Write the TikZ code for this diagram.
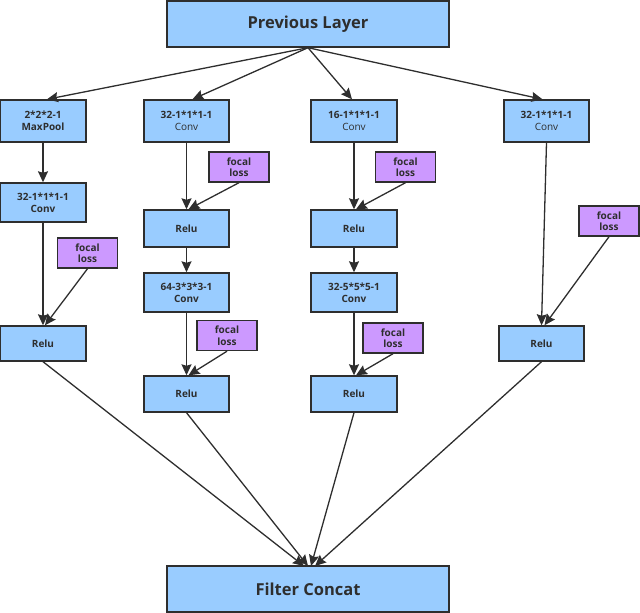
\documentclass[tikz,border=0pt]{standalone}
\usepackage{fontspec}
\setmainfont{Open Sans}
\usetikzlibrary{arrows.meta,calc}
\definecolor{bfill}{HTML}{99CCFF}
\definecolor{pfill}{HTML}{CC99FF}
\definecolor{ink}{HTML}{2E2E2E}
\tikzset{
  blk/.style={draw=ink,line width=1.4pt,fill=bfill,inner sep=0pt,align=center,text=ink,font=\fontsize{10}{12}\selectfont},
  fl/.style={draw=ink,line width=1.4pt,fill=pfill,inner sep=0pt,align=center,text=ink,font=\bfseries\fontsize{10}{11.5}\selectfont,minimum width=60,minimum height=30},
  big/.style={blk,font=\bfseries\fontsize{16.5}{18}\selectfont,minimum width=282,minimum height=46},
  arr/.style={draw=ink,line width=1.3pt,-{Stealth[length=11pt,width=10pt,inset=1.5pt]}}
}
\begin{document}
\begin{tikzpicture}[x=1pt,y=-1pt]
\useasboundingbox (0,0) rectangle (640,613);
\node[big] (prev) at (308,24) {Previous Layer};
\node[big] (concat) at (308,589) {Filter Concat};
% column 1
\node[blk,minimum width=86,minimum height=42] (mp) at (43,121) {\textbf{2*2*2-1}\\\textbf{MaxPool}};
\node[blk,minimum width=86,minimum height=39] (c1conv) at (43,202.5) {\textbf{32-1*1*1-1}\\\textbf{Conv}};
\node[fl] (c1fl) at (87.5,253) {focal\\loss};
\node[blk,minimum width=86,minimum height=35] (c1relu) at (43,343.5) {\textbf{Relu}};
% column 2
\node[blk,minimum width=85,minimum height=42] (c2conv) at (186.5,121) {\textbf{32-1*1*1-1}\\Conv};
\node[fl] (c2fl) at (239,167) {focal\\loss};
\node[blk,minimum width=85,minimum height=37] (c2relua) at (186.5,228.5) {\textbf{Relu}};
\node[blk,minimum width=85,minimum height=39] (c2convb) at (186.5,292.5) {\textbf{64-3*3*3-1}\\\textbf{Conv}};
\node[fl] (c2flb) at (227,335.5) {focal\\loss};
\node[blk,minimum width=85,minimum height=36] (c2relub) at (186.5,394) {\textbf{Relu}};
% column 3
\node[blk,minimum width=86,minimum height=42] (c3conv) at (354,121) {\textbf{16-1*1*1-1}\\Conv};
\node[fl] (c3fl) at (405.5,167) {focal\\loss};
\node[blk,minimum width=86,minimum height=37] (c3relua) at (354,228.5) {\textbf{Relu}};
\node[blk,minimum width=86,minimum height=39] (c3convb) at (354,292.5) {\textbf{32-5*5*5-1}\\\textbf{Conv}};
\node[fl] (c3flb) at (393,338) {focal\\loss};
\node[blk,minimum width=86,minimum height=36] (c3relub) at (354,394) {\textbf{Relu}};
% column 4
\node[blk,minimum width=85,minimum height=42] (c4conv) at (546.5,121) {\textbf{32-1*1*1-1}\\Conv};
\node[fl] (c4fl) at (609,221) {focal\\loss};
\node[blk,minimum width=85,minimum height=35] (c4relu) at (541.5,343.5) {\textbf{Relu}};
% targets
\coordinate (t1) at (304,566);
\coordinate (t2) at (308,566);
\coordinate (t3) at (311,566);
\coordinate (t4) at (315,566);
% arrows from previous
\draw[arr] (prev.south) -- ($(mp.north)+(4,0)$);
\draw[arr] (prev.south) -- ($(c2conv.north)+(6,0)$);
\draw[arr] (prev.south) -- ($(c3conv.north)+(-2,0)$);
\draw[arr] (prev.south) -- ($(c4conv.north)+(-4,0)$);
% column 1
\draw[arr] (mp) -- (c1conv);
\draw[arr] (c1conv) -- (c1relu);
\draw[arr] (c1fl.south) -- ($(c1relu.north)+(2,0)$);
% column 2
\draw[arr] (c2conv) -- (c2relua);
\draw[arr] (c2fl.south) -- ($(c2relua.north)+(2,0)$);
\draw[arr] (c2relua) -- (c2convb);
\draw[arr] (c2convb) -- (c2relub);
\draw[arr] (c2flb.south) -- ($(c2relub.north)+(2,0)$);
% column 3
\draw[arr] (c3conv) -- (c3relua);
\draw[arr] (c3fl.south) -- ($(c3relua.north)+(2,0)$);
\draw[arr] (c3relua) -- (c3convb);
\draw[arr] (c3convb) -- (c3relub);
\draw[arr] (c3flb.south) -- ($(c3relub.north)+(2,0)$);
% column 4
\draw[arr] (c4conv.south) -- (c4relu.north);
\draw[arr] (c4fl.south) -- ($(c4relu.north)+(3,0)$);
% to concat
\draw[arr] (c1relu.south) -- (t1);
\draw[arr] (c2relub.south) -- (t2);
\draw[arr] (c3relub.south) -- (t3);
\draw[arr] (c4relu.south) -- (t4);
\end{tikzpicture}
\end{document}
